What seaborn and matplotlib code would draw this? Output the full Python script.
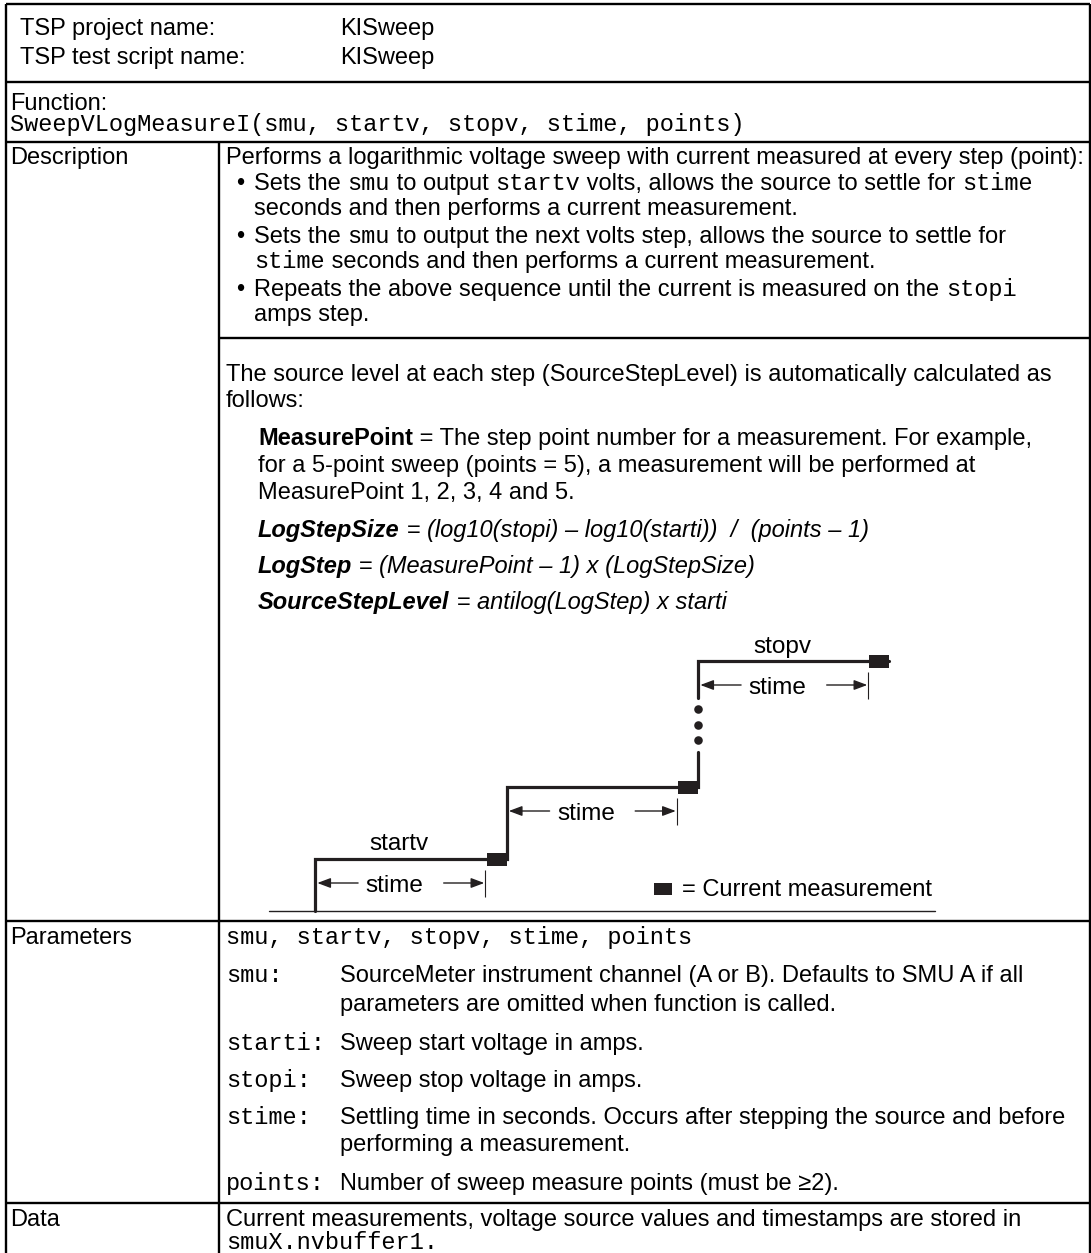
import matplotlib
matplotlib.use("Agg")
import matplotlib.pyplot as plt
import seaborn as sns
import pandas as pd
from matplotlib.path import Path

# ---- content ----
header_labels = ["TSP project name:", "TSP test script name:"]
header_values = ["KISweep", "KISweep"]
function_sig = "SweepVLogMeasureI(smu, startv, stopv, stime, points)"

intro = "Performs a logarithmic voltage sweep with current measured at every step (point):"
bullet_lines = [
    [("Sets the ", "r"), ("smu", "m"), (" to output ", "r"), ("startv", "m"),
     (" volts, allows the source to settle for ", "r"), ("stime", "m")],
    [("seconds and then performs a current measurement.", "r")],
    [("Sets the ", "r"), ("smu", "m"),
     (" to output the next volts step, allows the source to settle for", "r")],
    [("stime", "m"), (" seconds and then performs a current measurement.", "r")],
    [("Repeats the above sequence until the current is measured on the ", "r"), ("stopi", "m")],
    [("amps step.", "r")],
]
bullet_starts = [True, False, True, False, True, False]
calc_lines = ["The source level at each step (SourceStepLevel) is automatically calculated as",
              "follows:"]
formula_lines = [
    [("MeasurePoint", "b"), (" = The step point number for a measurement. For example,", "r")],
    [("for a 5-point sweep (points = 5), a measurement will be performed at", "r")],
    [("MeasurePoint 1, 2, 3, 4 and 5.", "r")],
    [("LogStepSize", "bi"), (" = (log10(stopi) \u2013 log10(starti))  /  (points \u2013 1)", "i")],
    [("LogStep", "bi"), (" = (MeasurePoint \u2013 1) x (LogStepSize)", "i")],
    [("SourceStepLevel", "bi"), (" = antilog(LogStep) x starti", "i")],
]
param_sig = "smu, startv, stopv, stime, points"
param_names = ["smu:", "starti:", "stopi:", "stime:", "points:"]
param_texts = [
    ["SourceMeter instrument channel (A or B). Defaults to SMU A if all",
     "parameters are omitted when function is called."],
    ["Sweep start voltage in amps."],
    ["Sweep stop voltage in amps."],
    ["Settling time in seconds. Occurs after stepping the source and before",
     "performing a measurement."],
    ["Number of sweep measure points (must be \u22652)."],
]
data_text = "Current measurements, voltage source values and timestamps are stored in"
data_buffer = "smuX.nvbuffer1."

# staircase diagram (levels in arbitrary volt units, time in stime units)
step_levels = [1.04, 2.48, 5.0]
step_labels = ["startv", "", "stopv"]
riser_gap = [3.18, 4.26]
dot_levels = [3.42, 3.72, 4.04]

# ---- layout ----
W, H = 1091, 1253
sns.set_theme(style="white")
SANS = ["Liberation Sans", "DejaVu Sans"]
MONO = ["Liberation Mono", "DejaVu Sans Mono"]
plt.rcParams["font.family"] = SANS
FS = 17
INK = "#000000"
LINE = "#231f20"
STY = {
    "r": dict(family=SANS, size=FS),
    "m": dict(family=MONO, size=FS),
    "b": dict(family=SANS, size=FS, weight="bold"),
    "i": dict(family=SANS, size=FS, style="italic"),
    "bi": dict(family=SANS, size=FS, weight="bold", style="italic"),
}

fig = plt.figure(figsize=(W / 100, H / 100), dpi=100)
ax = fig.add_axes([0, 0, 1, 1])
ax.set_xlim(0, W)
ax.set_ylim(H, 0)
ax.axis("off")
renderer = fig.canvas.get_renderer()


def text_width(s, key):
    a = ax.text(0, 0, "|" + s + "|", **STY[key])
    b = ax.text(0, 0, "||", **STY[key])
    w = a.get_window_extent(renderer).width - b.get_window_extent(renderer).width
    a.remove()
    b.remove()
    return w


def put(x, y, s, key="r"):
    ax.text(x, y, s, ha="left", va="baseline", color=INK, **STY[key])


def put_runs(x, y, parts):
    for s, key in parts:
        put(x, y, s, key)
        x += text_width(s, key)


# table rules
LW = 1.7
L, R = 6, 1090
DIV = 219
ax.hlines([4, 82, 142, 921, 1203], L, R, color=INK, lw=LW)
ax.hlines(338, DIV, R, color=INK, lw=LW)
ax.vlines([L, R], 4, H, color=INK, lw=LW)
ax.vlines(DIV, 142, H, color=INK, lw=LW)

# header
for lab, val, y in zip(header_labels, header_values, [35, 64]):
    put(20, y, lab)
    put(340, y, val)
put(10, 110, "Function:")
put(10, 131, function_sig, "m")

# description
put(10, 164, "Description")
put(226, 164, intro)
for parts, first, y in zip(bullet_lines, bullet_starts, [190, 215, 243, 268, 296, 321]):
    if first:
        put(236, y, "\u2022")
    put_runs(254, y, parts)
for s, y in zip(calc_lines, [381, 407]):
    put(226, y, s)
for parts, y in zip(formula_lines, [445, 472, 499, 537, 573, 609]):
    put_runs(258, y, parts)

# parameters
put(10, 944, "Parameters")
put(226, 944, param_sig, "m")
param_y = [[982, 1011], [1050], [1087], [1124, 1151], [1190]]
for name, lines, ys in zip(param_names, param_texts, param_y):
    put(226, ys[0], name, "m")
    for s, y in zip(lines, ys):
        put(340, y, s)

# data
put(10, 1226, "Data")
put(226, 1226, data_text)
put(226, 1249, data_buffer, "m")

# ---- staircase diagram in its own axes ----
T0, STEP, BASE, UNIT = 315, 191.5, 911, 50.0
bx0, bx1, by0, by1 = 250, 950, 625, 918
ax2 = fig.add_axes([bx0 / W, 1 - by1 / H, (bx1 - bx0) / W, (by1 - by0) / H])
ax2.set_xlim((bx0 - T0) / STEP, (bx1 - T0) / STEP)
ax2.set_ylim((BASE - by1) / UNIT, (BASE - by0) / UNIT)
ax2.axis("off")
ax2.patch.set_alpha(0)

# stair path: rises at t = k, treads from k to k+1; last riser broken by dots
n = len(step_levels)
ts, vs, seg = [0.0], [0.0], [0]
for k, lv in enumerate(step_levels):
    s = 0
    if k == n - 1:
        ts += [k, k]
        vs += [riser_gap[0], riser_gap[1]]
        seg += [0, 1]
        s = 1
    ts += [k, k + 1]
    vs += [lv, lv]
    seg += [s, s]
stair = pd.DataFrame({"t": ts, "v": vs, "seg": seg})
sns.lineplot(data=stair, x="t", y="v", units="seg", estimator=None, sort=False,
             color=LINE, lw=2.3, ax=ax2, solid_joinstyle="miter")

# baseline
ax2.plot([-0.24, 3.24], [0, 0], color=LINE, lw=1.0)

# measurement squares
sq = Path([(-1, -0.33), (0, -0.33), (0, 0.3), (-1, 0.3), (-1, -0.33)], closed=True)
meas = pd.DataFrame({"t": [k + 1 for k in range(n)], "v": step_levels})
sns.scatterplot(data=meas, x="t", y="v", marker=sq, s=830, color=LINE,
                linewidth=0, ax=ax2, zorder=5)
sns.scatterplot(x=[n - 1] * len(dot_levels), y=dot_levels, s=38, color=LINE,
                linewidth=0, ax=ax2, zorder=5)

DFS = 17.5
arrow = dict(arrowstyle="-|>,head_length=0.8,head_width=0.3", color=LINE, lw=1.0,
             shrinkA=0, shrinkB=0, mutation_scale=10)
for k, lv in enumerate(step_levels):
    ya = lv - 0.48
    ax2.annotate("", xy=(k + 0.012, ya), xytext=(k + 0.225, ya), arrowprops=arrow)
    ax2.annotate("", xy=(k + 0.884, ya), xytext=(k + 0.672, ya), arrowprops=arrow)
    ax2.vlines(k + 0.888, lv - 0.76, lv - 0.22, color=LINE, lw=0.8)
    ax2.text(k + 0.415, ya - 0.17, "stime", ha="center", va="baseline",
             family=SANS, size=DFS, color=INK)
    if step_labels[k]:
        ax2.text(k + 0.44, lv + 0.17, step_labels[k], ha="center", va="baseline",
                 family=SANS, size=DFS, color=INK)

# legend for the squares
sns.scatterplot(x=[1.864], y=[0.45], marker=sq, s=700, color=LINE, linewidth=0, ax=ax2)
ax2.text(1.916, 0.45 - 0.16, "= Current measurement", ha="left", va="baseline",
         family=SANS, size=DFS - 0.5, color=INK)
ax2.set_xlabel("")
ax2.set_ylabel("")

fig.savefig("out.png", dpi=100)
